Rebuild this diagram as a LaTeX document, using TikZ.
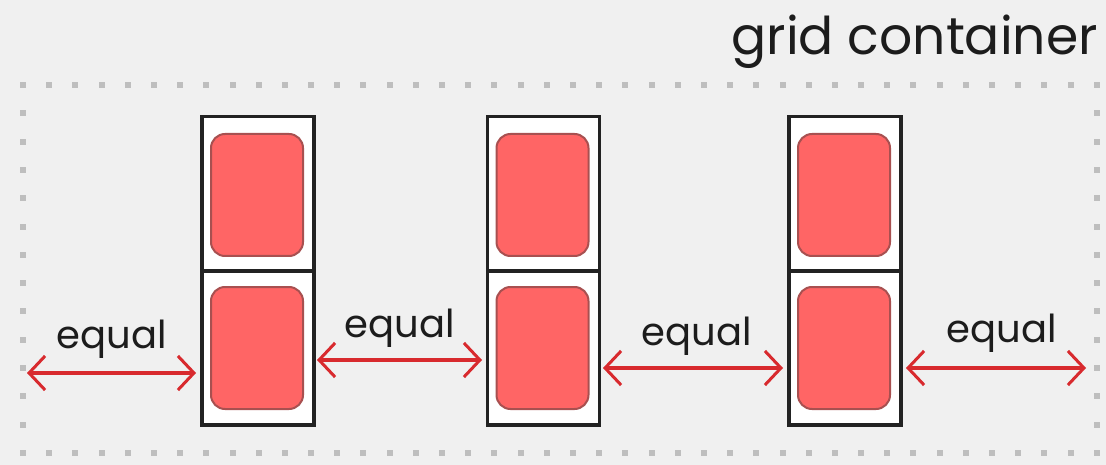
\documentclass[tikz,border=0pt]{standalone}
\usepackage{fontspec}
\setmainfont{Poppins}
\usetikzlibrary{arrows.meta}
\definecolor{bg}{HTML}{F0F0F0}
\definecolor{dotc}{HTML}{BEBEBE}
\definecolor{boxc}{HTML}{222222}
\definecolor{redf}{HTML}{FF6565}
\definecolor{redd}{HTML}{A85050}
\definecolor{arrc}{HTML}{D82A2E}
\definecolor{txt}{HTML}{1C1C1C}
\tikzset{
  cell/.style={draw=boxc, line width=3.5pt, fill=white, minimum width=112pt, minimum height=154pt, inner sep=0pt, anchor=north west},
  item/.style={draw=redd, line width=2pt, fill=redf, rounded corners=14pt, minimum width=92pt, minimum height=122pt, inner sep=0pt, anchor=north west},
  gap/.style={arrc, line width=3.5pt, {Straight Barb[length=16pt,width=34pt,line width=3pt]}-{Straight Barb[length=16pt,width=34pt,line width=3pt]}},
  lbl/.style={text=txt, font=\fontsize{38.5}{38.5}\selectfont, inner sep=0pt, anchor=base}
}
\begin{document}
\begin{tikzpicture}[x=1pt,y=-1pt]
\fill[bg] (0,0) rectangle (1106,465);
\useasboundingbox (0,0) rectangle (1106,465);
% dotted container border
\foreach \i in {0,...,41} {
  \fill[dotc] ({23+\i*26.19-3},82) rectangle ++(6,6);
  \fill[dotc] ({23+\i*26.19-3},450) rectangle ++(6,6);
}
\foreach \j in {1,...,12} {
  \fill[dotc] (20,{85+\j*28.31-3}) rectangle ++(6,6);
  \fill[dotc] (1094,{85+\j*28.31-3}) rectangle ++(6,6);
}
\node[text=txt, font=\fontsize{52}{52}\selectfont, inner sep=0pt, anchor=base east] (title) at (1098,55) {grid container};
% columns
\foreach \n/\x in {a/200,b/485.5,c/787} {
  \node[cell] (\n top) at (\x,115) {};
  \node[cell] (\n bot) at (\x,269) {};
  \node[item] (\n i1) at (\x+10,133) {};
  \node[item] (\n i2) at (\x+10,286) {};
}
% arrows
\coordinate (s1) at (27,373);   \coordinate (e1) at (196,373);
\coordinate (s2) at (317,360);  \coordinate (e2) at (482,360);
\coordinate (s3) at (603,368);  \coordinate (e3) at (783,368);
\coordinate (s4) at (906,368);  \coordinate (e4) at (1086,368);
\draw[gap] (s1) -- (e1);
\draw[gap] (s2) -- (e2);
\draw[gap] (s3) -- (e3);
\draw[gap] (s4) -- (e4);
\node[lbl] (l1) at (112,348) {equal};
\node[lbl] (l2) at (400,337) {equal};
\node[lbl] (l3) at (697,345) {equal};
\node[lbl] (l4) at (1002,342) {equal};
\end{tikzpicture}
\end{document}
